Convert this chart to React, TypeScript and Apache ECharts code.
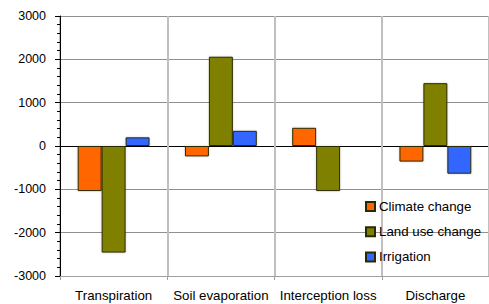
import React, { useEffect, useRef } from "react";
import * as echarts from "echarts";

const categories = ["Transpiration", "Soil evaporation", "Interception loss", "Discharge"];
const climateChange = [-1040, -240, 420, -360];
const landUseChange = [-2460, 2060, -1040, 1450];
const irrigation = [200, 350, 20, -640];
const seriesNames = ["Climate change", "Land use change", "Irrigation"];
const colors = ["#FF6600", "#808000", "#3366FF"];

export default function App() {
  const ref = useRef<HTMLDivElement>(null);
  useEffect(() => {
    if (!ref.current) return;
    const chart = echarts.init(ref.current, null, { renderer: "svg" });
    const font = "Liberation Sans, Arial, sans-serif";
    const data = [climateChange, landUseChange, irrigation];
    chart.setOption({
      animation: false,
      textStyle: { fontFamily: font },
      grid: { left: 60, top: 16, width: 438, height: 260 },
      legend: {
        orient: "vertical",
        left: 360,
        top: 195,
        itemGap: 12.2,
        itemWidth: 9,
        itemHeight: 9,
        itemGap2: 0,
        icon: "rect",
        textStyle: { fontSize: 13.3, color: "#000", fontFamily: font, padding: [0, 0, 0, -1] },
        data: seriesNames,
      },
      xAxis: {
        type: "category",
        data: categories,
        axisLine: { show: true, onZero: false, lineStyle: { color: "#a0a0a0", width: 1 } },
        axisTick: { show: true, length: 4, interval: 0, lineStyle: { color: "#a0a0a0" } },
        axisLabel: { color: "#000", fontSize: 13.3, margin: 13, interval: 0, fontFamily: font },
        splitLine: { show: true, interval: 0, lineStyle: { color: "#c0c0c0", width: 2 } },
      },
      yAxis: {
        type: "value",
        min: -3000,
        max: 3000,
        interval: 1000,
        axisLine: { show: true, lineStyle: { color: "#000", width: 1 } },
        axisTick: { show: true, length: 5, lineStyle: { color: "#000" } },
        minorTick: { show: true, splitNumber: 5, length: 3, lineStyle: { color: "#000" } },
        axisLabel: {
          color: "#000",
          fontSize: 12.5,
          margin: 14,
          fontFamily: font,
          formatter: (v: number) => String(v),
        },
        splitLine: {
          show: true,
          lineStyle: {
            color: ["#a0a0a0", "#909090", "#909090", "#000", "#909090", "#909090", "#909090"],
            width: 1,
          },
        },
      },
      series: seriesNames.map((name, i) => ({
        name,
        type: "bar",
        data: data[i],
        barGap: "0%",
        barCategoryGap: "33%",
        itemStyle: {
          color: colors[i],
          borderColor: "#2a2a00",
          borderWidth: 1,
          shadowColor: "rgba(0,0,0,0.2)",
          shadowBlur: 2,
        },
      })),
    });
    return () => chart.dispose();
  }, []);
  return <div ref={ref} style={{ width: 489, height: 304, position: "absolute", left: 0, top: 0 }} />;
}
